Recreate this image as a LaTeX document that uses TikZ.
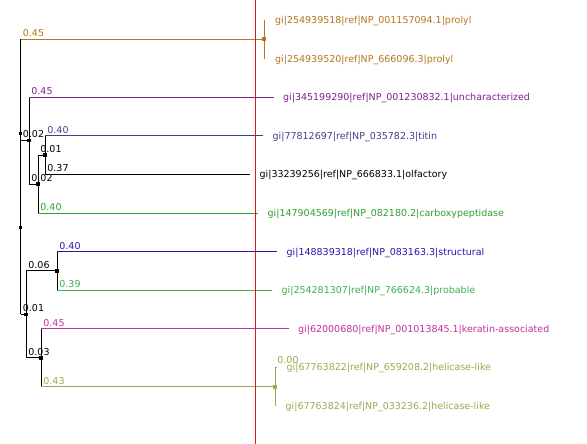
\documentclass[tikz,border=0pt]{standalone}
\usepackage{fontspec}
\setmainfont{DejaVu Sans}
\definecolor{cprolyl}{RGB}{185,116,30}
\definecolor{cunchar}{RGB}{128,32,144}
\definecolor{ctitin}{RGB}{64,64,144}
\definecolor{ccarboxy}{RGB}{48,160,48}
\definecolor{cstruct}{RGB}{48,16,176}
\definecolor{cprobable}{RGB}{64,176,80}
\definecolor{ckeratin}{RGB}{192,48,160}
\definecolor{chelicase}{RGB}{160,168,80}
\definecolor{cmarker}{RGB}{230,20,20}
\begin{document}
\begin{tikzpicture}[x=1pt,y=-1pt,
  edge/.style={line width=1pt},
  nodemark/.style={rectangle, fill=black, draw=none, minimum size=3.6pt, inner sep=0pt},
  leaflab/.style={anchor=base west, inner sep=0pt, font=\fontsize{9.5}{11}\selectfont, xshift=9.5pt, yshift=-3.5pt},
  lenlab/.style={anchor=base west, inner sep=0pt, font=\fontsize{9.5}{11}\selectfont, xshift=2.2pt, yshift=2.6pt}]
\useasboundingbox (0,0) rectangle (587,444);
\fill[white] (0,0) rectangle (587,444);

% internal nodes
\coordinate (root) at (20.5,133.4);
\coordinate (rp)   at (20.5,227.5);
\coordinate (n2)   at (29,140.6);
\coordinate (n3)   at (38,184);
\coordinate (n4)   at (45,155.1);
\coordinate (nl)   at (26,314.3);
\coordinate (n5)   at (57,270.9);
\coordinate (n6)   at (41,357.8);
\coordinate (pro)  at (264,39.3);
\coordinate (hel)  at (275,386.7);
% leaf ends
\coordinate (l1)  at (264,20);
\coordinate (l2)  at (264,58.6);
\coordinate (l3)  at (273.5,97.2);
\coordinate (l4)  at (263,135.8);
\coordinate (l5)  at (250,174.4);
\coordinate (l6)  at (258,213);
\coordinate (l7)  at (277,251.6);
\coordinate (l8)  at (272,290.2);
\coordinate (l9)  at (288.5,328.8);
\coordinate (l10) at (277,367.4);
\coordinate (l11) at (275,406);

% vertical parts (parent colour) and horizontal parts (child colour)
\draw[edge] (root) -- (root |- pro);
\draw[edge,cprolyl] (root |- pro) -- (pro);
\draw[edge] (root) -- (rp);
\draw[edge] (rp) -- (rp |- n2);
\draw[edge] (rp |- n2) -- (n2);
\draw[edge] (rp) -- (rp |- nl);
\draw[edge] (rp |- nl) -- (nl);

\draw[edge,cprolyl] (pro) -- (l1);
\draw[edge,cprolyl] (pro) -- (l2);

\draw[edge] (n2) -- (n2 |- l3);
\draw[edge,cunchar] (n2 |- l3) -- (l3);
\draw[edge] (n2) -- (n2 |- n3);
\draw[edge] (n2 |- n3) -- (n3);

\draw[edge] (n3) -- (n3 |- n4);
\draw[edge] (n3 |- n4) -- (n4);
\draw[edge] (n3) -- (n3 |- l6);
\draw[edge,ccarboxy] (n3 |- l6) -- (l6);

\draw[edge] (n4) -- (n4 |- l4);
\draw[edge,ctitin] (n4 |- l4) -- (l4);
\draw[edge] (n4) -- (n4 |- l5);
\draw[edge] (n4 |- l5) -- (l5);

\draw[edge] (nl) -- (nl |- n5);
\draw[edge] (nl |- n5) -- (n5);
\draw[edge] (nl) -- (nl |- n6);
\draw[edge] (nl |- n6) -- (n6);

\draw[edge] (n5) -- (n5 |- l7);
\draw[edge,cstruct] (n5 |- l7) -- (l7);
\draw[edge] (n5) -- (n5 |- l8);
\draw[edge,cprobable] (n5 |- l8) -- (l8);

\draw[edge] (n6) -- (n6 |- l9);
\draw[edge,ckeratin] (n6 |- l9) -- (l9);
\draw[edge] (n6) -- (n6 |- hel);
\draw[edge,chelicase] (n6 |- hel) -- (hel);

\draw[edge,chelicase] (hel) -- (hel |- l10) -- (l10);
\draw[edge,chelicase] (hel) -- (l11);

% node markers
\foreach \n in {root,rp,n2,n3,n4,nl,n5,n6}
  \node[nodemark] (m\n) at (\n) {};
\node[nodemark,fill=cprolyl] (mpro) at (pro) {};
\node[nodemark,fill=chelicase] (mhel) at (hel) {};

% branch lengths
\node[lenlab,cprolyl]   (b1)  at (root |- pro) {0.45};
\node[lenlab,cunchar]   (b2)  at (n2 |- l3) {0.45};
\node[lenlab]           (b3)  at (rp |- n2) {0.02};
\node[lenlab,ctitin]    (b4)  at (n4 |- l4) {0.40};
\node[lenlab]           (b5)  at (n3 |- n4) {0.01};
\node[lenlab]           (b6)  at (n4 |- l5) {0.37};
\node[lenlab]           (b7)  at (n2 |- n3) {0.02};
\node[lenlab,ccarboxy]  (b8)  at (n3 |- l6) {0.40};
\node[lenlab]           (b9)  at (nl |- n5) {0.06};
\node[lenlab,cstruct]   (b10) at (n5 |- l7) {0.40};
\node[lenlab,cprobable] (b11) at (n5 |- l8) {0.39};
\node[lenlab]           (b12) at (rp |- nl) {0.01};
\node[lenlab,ckeratin]  (b13) at (n6 |- l9) {0.45};
\node[lenlab]           (b14) at (nl |- n6) {0.03};
\node[lenlab,chelicase] (b15) at (n6 |- hel) {0.43};
\node[lenlab,chelicase,yshift=1.2pt] (b16) at (hel |- l10) {0.00};

% leaf names
\node[leaflab,cprolyl,xshift=1.5pt] (t1) at (l1) {gi|254939518|ref|NP\_001157094.1|prolyl};
\node[leaflab,cprolyl,xshift=1.5pt] (t2) at (l2) {gi|254939520|ref|NP\_666096.3|prolyl};
\node[leaflab,cunchar]   (t3)  at (l3) {gi|345199290|ref|NP\_001230832.1|uncharacterized};
\node[leaflab,ctitin]    (t4)  at (l4) {gi|77812697|ref|NP\_035782.3|titin};
\node[leaflab]           (t5)  at (l5) {gi|33239256|ref|NP\_666833.1|olfactory};
\node[leaflab,ccarboxy]  (t6)  at (l6) {gi|147904569|ref|NP\_082180.2|carboxypeptidase};
\node[leaflab,cstruct]   (t7)  at (l7) {gi|148839318|ref|NP\_083163.3|structural};
\node[leaflab,cprobable] (t8)  at (l8) {gi|254281307|ref|NP\_766624.3|probable};
\node[leaflab,ckeratin]  (t9)  at (l9) {gi|62000680|ref|NP\_001013845.1|keratin-associated};
\node[leaflab,chelicase] (t10) at (l10) {gi|67763822|ref|NP\_659208.2|helicase-like};
\node[leaflab,chelicase,xshift=1pt] (t11) at (l11) {gi|67763824|ref|NP\_033236.2|helicase-like};

% vertical guide line
\coordinate (gtop) at (255.3,0);
\coordinate (gbot) at (255.3,444);
\draw[cmarker,line width=1pt] (gtop) -- (gbot);
\end{tikzpicture}
\end{document}
